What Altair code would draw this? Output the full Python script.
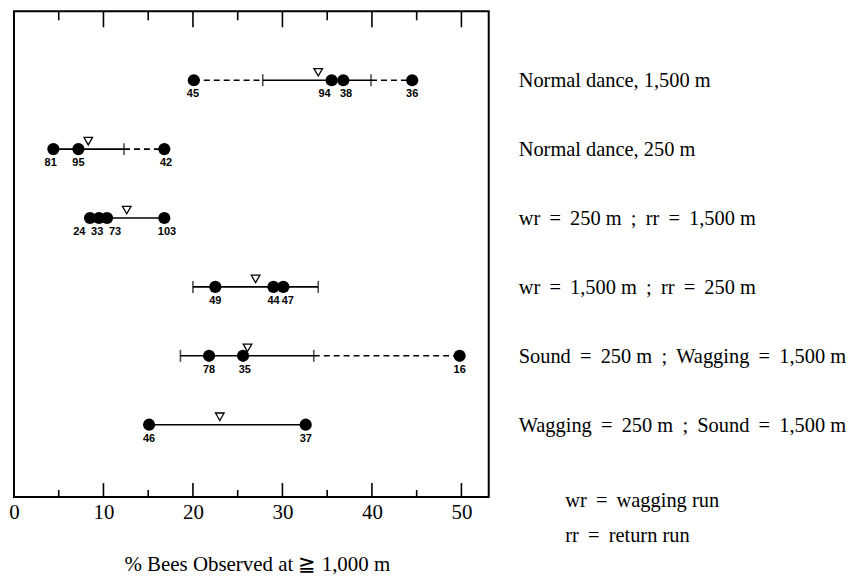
import altair as alt
import pandas as pd

# ---- data ----
S = " \u2009"  # widened word gap, as in the typeset labels
conditions = [
    "Normal dance, 1,500 m",
    "Normal dance, 250 m",
    f"wr{S}={S}250 m{S};{S}rr{S}={S}1,500 m",
    f"wr{S}={S}1,500 m{S};{S}rr{S}={S}250 m",
    f"Sound{S}={S}250 m{S};{S}Wagging{S}={S}1,500 m",
    f"Wagging{S}={S}250 m{S};{S}Sound{S}={S}1,500 m",
]
cond_row = [1, 2, 3, 4, 5, 6]

dot_row = [1, 1, 1, 1, 2, 2, 2, 3, 3, 3, 3, 4, 4, 4, 5, 5, 5, 6, 6]
dot_x = [20.1, 35.5, 36.8, 44.5, 4.4, 7.2, 16.8, 8.5, 9.5, 10.4, 16.8,
         22.5, 29.0, 30.1, 21.8, 25.6, 49.8, 15.1, 32.6]
dot_n = [45, 94, 38, 36, 81, 95, 42, 24, 33, 73, 103, 49, 44, 47, 78, 35, 16, 46, 37]
label_x = [20.0, 34.7, 37.1, 44.5, 4.1, 7.2, 17.0, 7.3, 9.3, 11.3, 17.1,
           22.5, 29.0, 30.6, 21.8, 25.8, 49.8, 15.1, 32.6]

mean_x = [34.0, 8.3, 12.6, 27.0, 26.1, 23.0]

solid_start = [27.8, 4.4, 8.5, 20.0, 18.6, 15.1]
solid_end = [39.9, 12.3, 16.8, 34.0, 33.5, 32.6]

dash_row = [1, 1, 2, 5]
dash_start = [20.1, 39.9, 12.3, 33.5]
dash_end = [27.8, 44.5, 16.8, 49.8]

ci_tick_row = [1, 1, 2, 4, 4, 5, 5]
ci_tick_x = [27.8, 39.9, 12.3, 20.0, 34.0, 18.6, 33.5]

major_ticks = [10, 20, 30, 40, 50]
minor_ticks = [5, 15, 25, 35, 45]
axis_labels = [0, 10, 20, 30, 40, 50]

legend_text = [f"wr{S}={S}wagging run", f"rr{S}={S}return run"]
legend_row = [7.1, 7.6]

label_col_x = 56.4
legend_col_x = 61.6

# ---- tables ----
dots = pd.DataFrame({"row": dot_row, "x": dot_x, "n": [str(v) for v in dot_n], "lx": label_x})
means = pd.DataFrame({"row": cond_row, "x": mean_x})
solid = pd.DataFrame({"row": cond_row, "x": solid_start, "x2": solid_end})
dashed = pd.DataFrame({"row": dash_row, "x": dash_start, "x2": dash_end})
cis = pd.DataFrame({"row": ci_tick_row, "x": ci_tick_x})
majors = pd.DataFrame({"x": major_ticks})
minors = pd.DataFrame({"x": minor_ticks})
conds = pd.DataFrame({"row": cond_row, "label": conditions, "x": [label_col_x] * 6})
legend = pd.DataFrame({"row": legend_row, "label": legend_text, "x": [legend_col_x] * 2})

xs = alt.Scale(domain=[0, 53.05], nice=False, zero=False)
ys = alt.Scale(domain=[0, 7.05], nice=False, zero=False, reverse=True)
SERIF = "Liberation Serif"

x_axis = alt.Axis(
    values=axis_labels, ticks=False, tickSize=0, domain=False, grid=False,
    labelFlush=False,
    labelFont=SERIF, labelFontSize=21, labelColor="black", labelPadding=5,
    title="% Bees Observed at ≧ 1,000 m", titleFont=SERIF, titleFontSize=21,
    titleFontWeight="normal", titleColor="black", titlePadding=48,
    titleBaseline="alphabetic", titleX=244, titleAlign="center")

X = lambda f="x": alt.X(f"{f}:Q", scale=xs, axis=x_axis)
Y = alt.Y("row:Q", scale=ys, axis=None)

solid_layer = alt.Chart(solid).mark_rule(color="black", strokeWidth=1.6).encode(
    x=X(), x2="x2:Q", y=Y)
dash_layer = alt.Chart(dashed).mark_rule(color="black", strokeWidth=1.6, strokeDash=[6, 4]).encode(
    x=X(), x2="x2:Q", y=Y)
ci_layer = alt.Chart(cis).mark_tick(color="black", size=12, thickness=1.6, orient="vertical").encode(
    x=X(), y=Y)
dot_layer = alt.Chart(dots).mark_circle(color="black", size=150, opacity=1).encode(
    x=X(), y=Y)
num_layer = alt.Chart(dots).mark_text(font="Liberation Sans", fontWeight="bold", fontSize=11,
                                      dy=14, color="black").encode(
    x=X("lx"), y=Y, text="n:N")
mean_layer = alt.Chart(means).mark_point(shape="triangle-down", filled=False, color="black",
                                         size=75, strokeWidth=1.3, yOffset=-8, opacity=1).encode(
    x=X(), y=Y)

top_major = alt.Chart(majors).mark_rule(color="black", strokeWidth=1.6).encode(
    x=X(), y=alt.value(0), y2=alt.value(16))
top_minor = alt.Chart(minors).mark_rule(color="black", strokeWidth=1.6).encode(
    x=X(), y=alt.value(0), y2=alt.value(9))
bot_major = alt.Chart(majors).mark_rule(color="black", strokeWidth=1.6).encode(
    x=X(), y=alt.value(488), y2=alt.value(474))
bot_minor = alt.Chart(minors).mark_rule(color="black", strokeWidth=1.6).encode(
    x=X(), y=alt.value(488), y2=alt.value(481))

cond_layer = alt.Chart(conds).mark_text(font=SERIF, fontSize=20.5, align="left", baseline="middle",
                                        dy=1, color="black").encode(
    x=X(), y=Y, text="label:N")
legend_layer = alt.Chart(legend).mark_text(font=SERIF, fontSize=20.5, align="left", baseline="middle",
                                           dy=1, color="black").encode(
    x=X(), y=Y, text="label:N")

chart = alt.layer(
    top_major, top_minor, bot_major, bot_minor,
    dash_layer, solid_layer, ci_layer, dot_layer, num_layer, mean_layer,
    cond_layer, legend_layer,
).properties(
    width=477, height=488,
    padding={"left": 0, "top": 1, "right": 0, "bottom": 0},
).configure(background="white").configure_view(stroke="black", strokeWidth=2)

chart.save("out.html", embed_options={"renderer": "svg", "actions": False})
